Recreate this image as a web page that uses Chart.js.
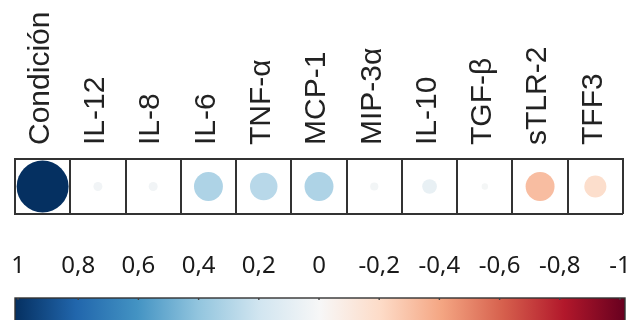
<!DOCTYPE html>
<html>
<head>
<meta charset="utf-8">
<script src="https://cdn.jsdelivr.net/npm/chart.js@4"></script>
<style>
    html, body { margin: 0; padding: 0; background: #fff; }
    #wrap { width: 634px; height: 320px; overflow: hidden; }
</style>
</head>
<body>
<div id="wrap"><canvas id="corrChart" width="634" height="320"></canvas></div>
<script>
// Variables shown in the row
const categories = ['Condición', 'IL-12', 'IL-8', 'IL-6', 'TNF-α', 'MCP-1', 'MIP-3α', 'IL-10', 'TGF-β', 'sTLR-2', 'TFF3'];

// Correlation with "Condición"
const corrValues = [1, 0.03, 0.03, 0.31, 0.28, 0.31, 0.025, 0.08, 0.015, -0.31, -0.18];

// Colour bar ticks
const colorbarTicks = [1, 0.8, 0.6, 0.4, 0.2, 0, -0.2, -0.4, -0.6, -0.8, -1];

// RdBu palette, from -1 (red) to 1 (blue)
const palette = ['#67001F', '#B2182B', '#D6604D', '#F4A582', '#FDDBC7', '#F7F7F7',
                 '#D1E5F0', '#92C5DE', '#4393C3', '#2166AC', '#053061'];

// Fixed band sizes (px)
const TOP_BAND = 159;     // rotated labels above the row
const BOTTOM_BAND = 106;  // colour bar labels + bar

function hexToRgb(h) {
    return [parseInt(h.slice(1, 3), 16), parseInt(h.slice(3, 5), 16), parseInt(h.slice(5, 7), 16)];
}

// Map a correlation value onto the palette
function colorFor(v) {
    const t = (Math.max(-1, Math.min(1, v)) + 1) / 2 * (palette.length - 1);
    const i = Math.min(Math.floor(t), palette.length - 2);
    const f = t - i;
    const a = hexToRgb(palette[i]);
    const b = hexToRgb(palette[i + 1]);
    const c = a.map((x, k) => Math.round(x + (b[k] - x) * f));
    return `rgb(${c[0]},${c[1]},${c[2]})`;
}

function formatTick(v) {
    const r = Math.round(v * 10) / 10;
    if (r === 0) return '0';
    return String(r).replace('.', ',');
}

function circleRadius(c) {
    const xs = c.chart.scales.x;
    const cell = (xs.right - xs.left) / categories.length;
    return Math.sqrt(Math.abs(corrValues[c.dataIndex])) * cell * 0.47;
}

// Draws the colour bar under the bottom labels
const colorbarPlugin = {
    id: 'colorbar',
    afterDraw(chart) {
        const cb = chart.scales.cb;
        const ctx = chart.ctx;
        const x0 = chart.chartArea.left;
        const x1 = chart.chartArea.right + 2;
        const top = chart.chartArea.bottom + 84;
        const h = 40;
        const grad = ctx.createLinearGradient(x0, 0, x1, 0);
        palette.slice().reverse().forEach((c, i) => grad.addColorStop(i / (palette.length - 1), c));
        ctx.save();
        ctx.fillStyle = grad;
        ctx.fillRect(x0, top, x1 - x0, h);
        ctx.strokeStyle = '#333';
        ctx.lineWidth = 1.4;
        ctx.strokeRect(x0, top, x1 - x0, h);
        // little tick marks on the top edge
        ctx.strokeStyle = '#444';
        cb.ticks.forEach(t => {
            const px = cb.getPixelForValue(t.value);
            ctx.beginPath();
            ctx.moveTo(px, top);
            ctx.lineTo(px, top + 2);
            ctx.stroke();
        });
        ctx.restore();
    }
};

const ctx = document.getElementById('corrChart').getContext('2d');
const corrChart = new Chart(ctx, {
    type: 'scatter',
    data: {
        datasets: [{
            data: categories.map((c, i) => ({ x: c, y: 'r' })),
            backgroundColor: c => colorFor(corrValues[c.dataIndex]),
            borderWidth: 0,
            pointRadius: circleRadius,
            pointHoverRadius: circleRadius
        }]
    },
    options: {
        responsive: false,
        animation: false,
        events: [],
        layout: {
            padding: { top: 0, left: 15, right: 11, bottom: 0 }
        },
        plugins: {
            legend: { display: false },
            tooltip: { enabled: false }
        },
        scales: {
            x: {
                type: 'category',
                labels: categories,
                position: 'top',
                offset: true,
                grid: { offset: true, color: '#333', lineWidth: 2, drawTicks: false },
                border: { display: true, color: '#333', width: 2 },
                ticks: {
                    minRotation: 90,
                    maxRotation: 90,
                    autoSkip: false,
                    padding: 14,
                    labelOffset: 34,
                    color: '#222',
                    font: { family: '"Liberation Sans", Arial, sans-serif', size: 30, lineHeight: 1.2 }
                },
                afterFit: scale => {
                    scale.height = TOP_BAND;
                    scale.paddingLeft = 0;
                    scale.paddingRight = 0;
                }
            },
            y: {
                type: 'category',
                labels: ['r'],
                offset: true,
                grid: { offset: true, color: '#333', lineWidth: 2, drawTicks: false },
                border: { display: true, color: '#333', width: 2 },
                ticks: { display: false },
                afterFit: scale => {
                    scale.width = 0;
                    scale.paddingTop = 0;
                    scale.paddingBottom = 0;
                }
            },
            cb: {
                type: 'linear',
                axis: 'x',
                position: 'bottom',
                min: -1.01,
                max: 1.01,
                reverse: true,
                afterBuildTicks: scale => {
                    scale.ticks = colorbarTicks.map(v => ({ value: v }));
                },
                grid: { display: false, drawTicks: false },
                border: { display: false },
                ticks: {
                    padding: 38,
                    color: '#1a1a1a',
                    maxRotation: 0,
                    minRotation: 0,
                    autoSkip: false,
                    font: { family: '"Noto Sans", sans-serif', size: 24 },
                    callback: v => formatTick(v)
                },
                afterFit: scale => {
                    scale.height = BOTTOM_BAND;
                    scale.paddingLeft = 0;
                    scale.paddingRight = 0;
                }
            }
        }
    },
    plugins: [colorbarPlugin]
});
</script>
</body>
</html>
